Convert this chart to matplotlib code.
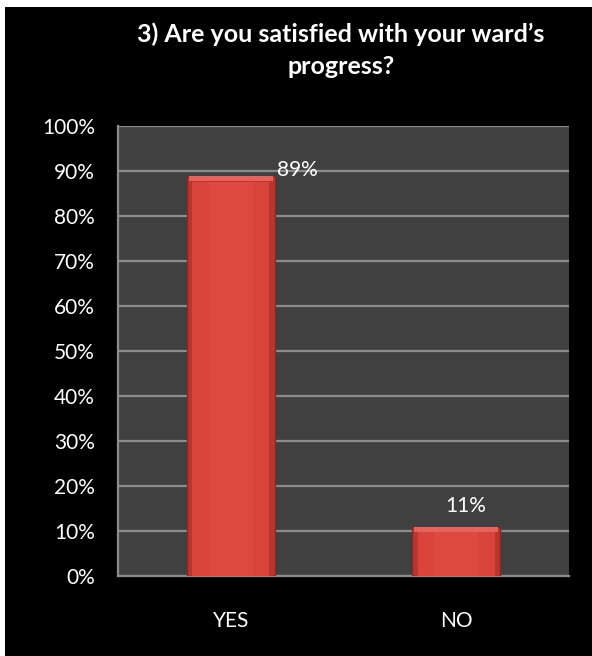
import matplotlib
matplotlib.use("Agg")
import matplotlib.pyplot as plt
from matplotlib.patches import Rectangle

categories = ["YES", "NO"]
values = [89, 11]
value_labels = ["89%", "11%"]
yticks = [0, 10, 20, 30, 40, 50, 60, 70, 80, 90, 100]
ytick_labels = [f"{t}%" for t in yticks]
title = "3) Are you satisfied with your ward\u2019s\nprogress?"

plt.rcParams['font.family'] = ['Lato', 'DejaVu Sans']

W, H = 592, 656
fig = plt.figure(figsize=(W / 100, H / 100), dpi=100, facecolor="white")
# black frame background
bg = Rectangle((5 / W, -0.01), 1.01 - 5 / W, 1.01 - 7 / H, transform=fig.transFigure,
               facecolor="black", edgecolor="none", zorder=-10)
fig.patches.append(bg)

left, right = 118 / W, 569 / W
bottom, top = 1 - 576 / H, 1 - 126 / H
ax = fig.add_axes([left, bottom, right - left, top - bottom])
ax.set_zorder(5)
ax.set_facecolor("#404040")

x = list(range(len(categories)))
bw = 0.39
ax.set_xlim(-0.5, 1.5)
ax.set_ylim(0, 100)

ax.set_yticks(yticks)
ax.set_yticklabels(ytick_labels)
ax.yaxis.grid(True, color="#8c8c8c", linewidth=1.6)
ax.set_axisbelow(True)
ax.set_xticks(x)
ax.set_xticklabels(categories)
ax.tick_params(axis="both", length=0, colors="white", labelsize=15)
ax.tick_params(axis="y", pad=16.5)
ax.tick_params(axis="x", pad=25)
for lbl in ax.get_xticklabels() + ax.get_yticklabels():
    lbl.set_color("white")

for s in ["top", "right"]:
    ax.spines[s].set_visible(False)
for s in ["left", "bottom"]:
    ax.spines[s].set_color("#8c8c8c")
    ax.spines[s].set_linewidth(1.6)

# bars with bevel-like shading
ax.bar(x, values, width=bw, color="#b83530", edgecolor="#8a2622", linewidth=1, zorder=3)
ax.bar(x, [v * 0.985 for v in values], width=bw * 0.88, color="#d9433c", edgecolor="none", zorder=4)
ax.bar(x, [v * 0.985 for v in values], width=bw * 0.5, color="#dd4840", edgecolor="none", zorder=4)
# top highlight
for xi, v in zip(x, values):
    ax.bar(xi, 1.2, bottom=v - 1.2, width=bw * 0.96, color="#e8615a", edgecolor="none", zorder=5)

# value labels
ax.text(x[0] + bw / 2 + 0.1, values[0] + 1.2, value_labels[0], color="white", fontsize=15,
        ha="center", va="center", zorder=6)
ax.text(x[1] + 0.04, values[1] + 4.6, value_labels[1], color="white", fontsize=15,
        ha="center", va="center", zorder=6)

fig.text(341 / W, 1 - 50 / H, title, color="white", fontsize=18, fontweight="bold",
         ha="center", va="center", linespacing=1.45, zorder=6)

fig.savefig("out.png", dpi=100, facecolor="white")
